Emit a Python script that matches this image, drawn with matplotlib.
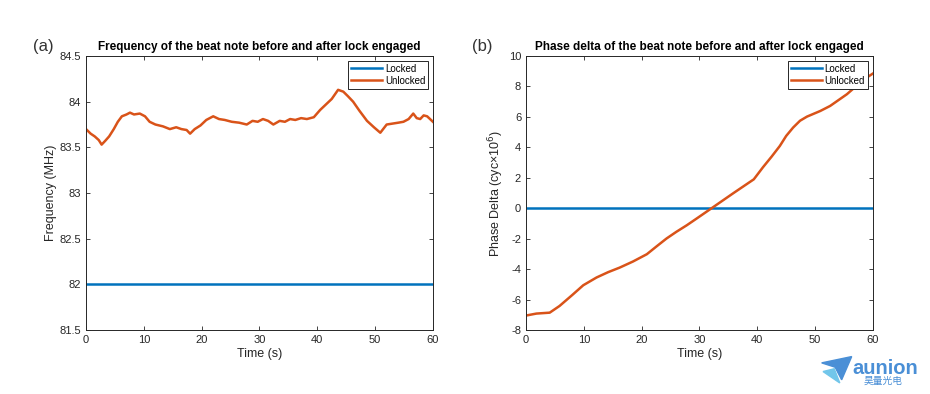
import numpy as np
import matplotlib.pyplot as plt
from matplotlib.patches import Polygon

# data
t_freq = [0, 0.8, 1.5, 2.2, 2.7, 3.3, 4.0, 4.8, 5.5, 6.2, 7.0, 7.6, 8.3, 9.3, 10.2, 11.0,
          12.0, 13.3, 14.5, 15.6, 16.5, 17.4, 18.0, 18.8, 19.8, 20.8, 22.0, 23.0, 24.0,
          25.2, 26.5, 27.8, 28.8, 29.7, 30.6, 31.5, 32.4, 33.5, 34.4, 35.3, 36.2, 37.2,
          38.2, 39.4, 40.5, 41.5, 42.5, 43.6, 44.5, 45.3, 46.2, 47.3, 48.6, 49.8, 50.9,
          52.0, 53.0, 54.0, 54.9, 55.8, 56.6, 57.2, 57.8, 58.4, 59.0, 59.5, 60.0]
f_unlocked = [83.70, 83.65, 83.62, 83.58, 83.53, 83.57, 83.62, 83.70, 83.78, 83.84,
              83.86, 83.88, 83.86, 83.87, 83.84, 83.78, 83.75, 83.73, 83.70, 83.72,
              83.70, 83.69, 83.65, 83.70, 83.74, 83.80, 83.84, 83.81, 83.80, 83.78,
              83.77, 83.75, 83.79, 83.78, 83.81, 83.79, 83.75, 83.79, 83.78, 83.81,
              83.80, 83.82, 83.81, 83.83, 83.91, 83.97, 84.03, 84.13, 84.11, 84.06,
              84.00, 83.90, 83.79, 83.72, 83.66, 83.75, 83.76, 83.77, 83.78, 83.81,
              83.87, 83.82, 83.81, 83.85, 83.84, 83.81, 83.78]
t_lock = [0, 15, 30, 45, 60]
f_locked = [82.0, 82.0, 82.0, 82.0, 82.0]

t_phase = [0, 1.8, 4.1, 5.8, 8.0, 9.9, 12.2, 14.2, 16.2, 18.5, 20.9, 22.6, 24.3, 26.0,
           27.8, 29.5, 32.4, 35.9, 39.4, 41.0, 42.5, 43.9, 45.0, 46.2, 47.4, 48.6,
           50.9, 52.6, 55.5, 58.4, 60.0]
p_unlocked = [-7.05, -6.92, -6.86, -6.42, -5.70, -5.06, -4.55, -4.20, -3.90, -3.50,
              -3.02, -2.50, -1.99, -1.55, -1.12, -0.68, 0.08, 1.00, 1.90, 2.70,
              3.40, 4.09, 4.75, 5.30, 5.75, 6.02, 6.39, 6.72, 7.49, 8.45, 8.85]
p_locked = [0, 0, 0, 0, 0]

blue = '#0072BD'
orange = '#D95319'
dark = '#262626'

plt.rcParams['font.family'] = ['Liberation Sans', 'DejaVu Sans']
plt.rcParams['axes.unicode_minus'] = False

fig = plt.figure(figsize=(9.3, 3.94), dpi=100)
ax1 = fig.add_axes([0.0925, 0.1624, 0.373, 0.6954])
ax2 = fig.add_axes([0.5656, 0.1624, 0.373, 0.6954])

def style(ax):
    ax.tick_params(direction='in', top=True, right=True, labelsize=8,
                   colors=dark, length=3, width=0.6)
    for s in ax.spines.values():
        s.set_color(dark)
        s.set_linewidth(0.7)
    ax.set_xlim(0, 60)
    ax.set_xticks([0, 10, 20, 30, 40, 50, 60])
    ax.set_xlabel('Time (s)', fontsize=9, color=dark, labelpad=2)

ax1.plot(t_lock, f_locked, color=blue, lw=1.8, label='Locked')
ax1.plot(t_freq, f_unlocked, color=orange, lw=1.8, label='Unlocked')
ax1.set_ylim(81.5, 84.5)
ax1.set_yticks([81.5, 82, 82.5, 83, 83.5, 84, 84.5])
ax1.set_yticklabels(['81.5', '82', '82.5', '83', '83.5', '84', '84.5'])
ax1.set_ylabel('Frequency (MHz)', fontsize=9, color=dark, labelpad=2)
ax1.set_title('Frequency of the beat note before and after lock engaged',
              fontsize=8.5, fontweight='bold', pad=4)
style(ax1)

ax2.plot(t_lock, p_locked, color=blue, lw=1.8, label='Locked')
ax2.plot(t_phase, p_unlocked, color=orange, lw=1.8, label='Unlocked')
ax2.set_ylim(-8, 10)
ax2.set_yticks(range(-8, 11, 2))
ax2.set_ylabel('Phase Delta (cyc×10$^6$)', fontsize=9, color=dark, labelpad=2)
ax2.set_title('Phase delta of the beat note before and after lock engaged',
              fontsize=8.5, fontweight='bold', pad=4)
style(ax2)

for ax in (ax1, ax2):
    leg = ax.legend(loc='upper right', fontsize=7, fancybox=False, framealpha=1,
                    handlelength=3.2, borderpad=0.3, labelspacing=0.2,
                    borderaxespad=0.5, handletextpad=0.3)
    leg.get_frame().set_edgecolor(dark)
    leg.get_frame().set_linewidth(0.7)

fig.text(0.035, 0.87, '(a)', fontsize=12, color='#333333')
fig.text(0.508, 0.87, '(b)', fontsize=12, color='#333333')

# logo
fig.patches.append(Polygon([[0.8835, 0.079], [0.9158, 0.095], [0.905, 0.036],
                            [0.898, 0.068]],
                           closed=True, transform=fig.transFigure,
                           color='#4A8FD6'))
fig.patches.append(Polygon([[0.885, 0.057], [0.897, 0.064], [0.903, 0.028]],
                           closed=True, transform=fig.transFigure,
                           color='#72C6EA'))
fig.text(0.917, 0.052, 'aunion', fontsize=14.5, fontweight='bold', color='#4A8FD6')
fig.text(0.929, 0.025, '昊量光电', fontsize=7, color='#4A8FD6',
         family=['Noto Sans CJK SC', 'DejaVu Sans'])

fig.savefig('out.png', dpi=100)
